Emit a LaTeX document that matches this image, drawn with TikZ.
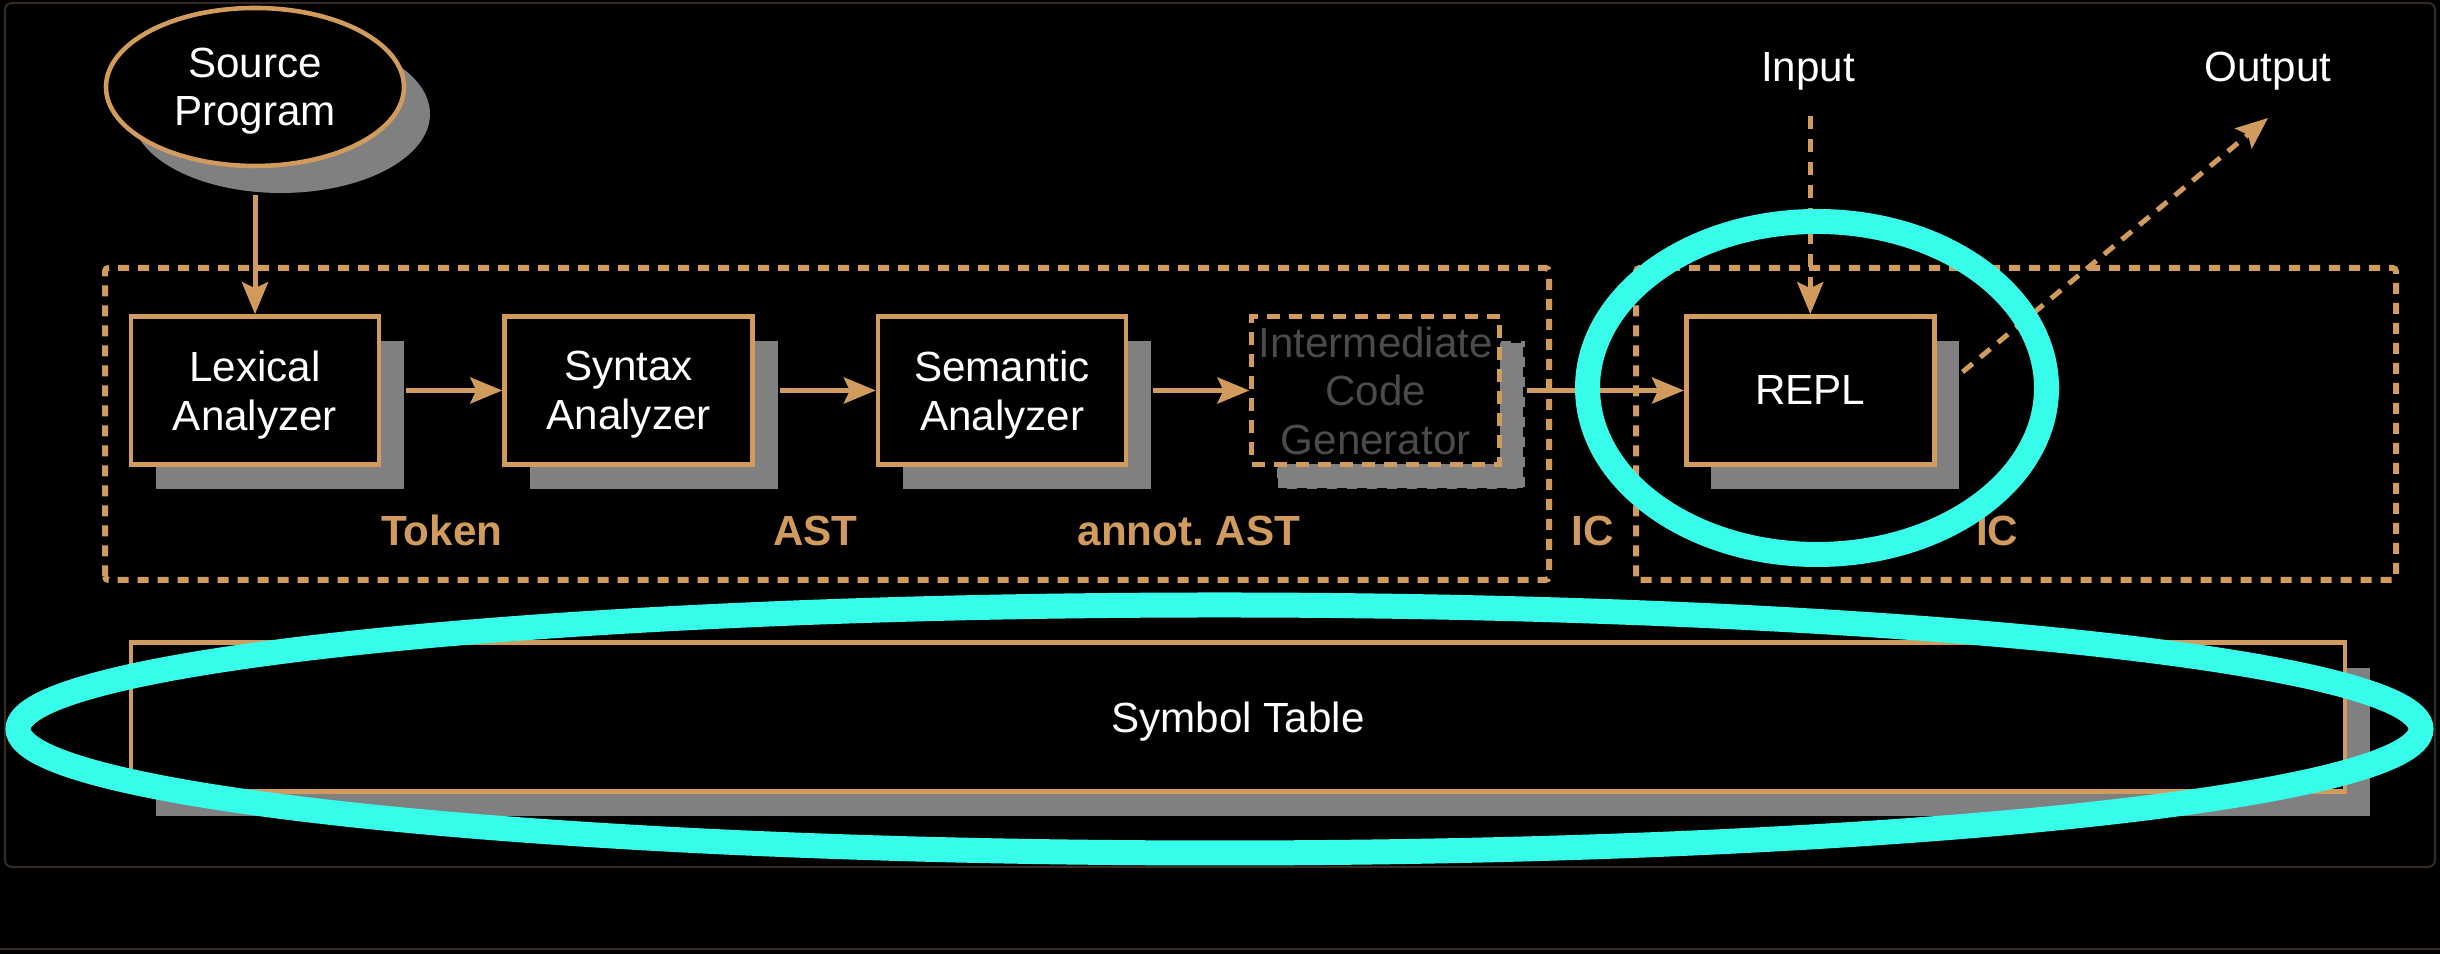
\documentclass[tikz,border=0pt]{standalone}
\usepackage{fontspec}
\setmainfont{Liberation Sans}
\usetikzlibrary{arrows.meta,calc,positioning,shadows,shapes.geometric}
\definecolor{EdgeClr}{rgb}{0.816,0.608,0.361}
\definecolor{ShadowClr}{rgb}{0.5,0.5,0.5}
\definecolor{RingClr}{rgb}{0.216,0.988,0.918}
\definecolor{FaintClr}{rgb}{0.29,0.29,0.31}
\definecolor{FrameClr}{rgb}{0.2,0.17,0.14}

\begin{document}
\begin{tikzpicture}[
  font=\fontsize{12}{13.8}\selectfont,
  stage/.style={draw=EdgeClr, line width=1.3pt, fill=black, text=white, align=center,
    inner sep=0pt, text depth=0pt, minimum width=2.48cm, minimum height=1.48cm,
    general shadow={fill=ShadowClr, shadow xshift=0.25cm, shadow yshift=-0.25cm}},
  faintstage/.style={draw=EdgeClr, line width=1.3pt, dash pattern=on 0.13cm off 0.09cm,
    fill=black, text=FaintClr, align=center,
    inner sep=0pt, text depth=0pt, minimum width=2.48cm, minimum height=1.48cm,
    general shadow={fill=ShadowClr, draw=black, line width=1pt, dash pattern=on 0.1cm off 0.1cm,
      shadow xshift=0.25cm, shadow yshift=-0.25cm}},
  source/.style={ellipse, draw=EdgeClr, line width=1.3pt, fill=black, text=white, align=center,
    inner sep=0pt, text depth=0pt, minimum width=2.98cm, minimum height=1.58cm,
    general shadow={fill=ShadowClr, shadow xshift=0.26cm, shadow yshift=-0.27cm}},
  symbox/.style={stage, minimum width=22.14cm, minimum height=1.485cm},
  zone/.style={draw=EdgeClr, line width=0.06cm, dash pattern=on 0.11cm off 0.09cm, rounded corners=1pt},
  flow/.style={draw=EdgeClr, line width=0.05cm, -{Stealth[length=0.32cm,width=0.26cm,inset=0.06cm]}},
  io/.style={flow, dash pattern=on 0.13cm off 0.1cm},
  tag/.style={text=EdgeClr, font=\fontsize{12}{13.8}\selectfont\bfseries, anchor=base},
  ring/.style={draw=RingClr, line width=0.25cm}
]
\useasboundingbox (0,0) rectangle (24.4,9.54);
\fill[black] (0,0) rectangle (24.4,9.54);
\draw[FrameClr, line width=0.6pt, rounded corners=2pt] (0.05,0.87) rectangle (24.35,9.51);
\draw[FrameClr, line width=0.6pt] (0,0.05) -- (24.4,0.05);

\draw[zone] (1.05,3.74) rectangle (15.49,6.86);
\draw[zone] (16.36,3.74) rectangle (23.96,6.86);

\node[source] (src) at (2.55,8.67) {Source\\Program};
\node[stage] (lex) at (2.55,5.635) {Lexical\\Analyzer};
\node[stage, right=1.21cm of lex] (syn) {Syntax\\Analyzer};
\node[stage, right=1.21cm of syn] (sem) {Semantic\\Analyzer};
\node[faintstage, right=1.21cm of sem] (icg) {Intermediate\\Code\\Generator};
\node[stage, right=1.82cm of icg] (repl) {REPL};
\node[symbox] (sym) at (12.38,2.37) {Symbol Table};

\node[text=white, anchor=base] (inp) at (18.08,8.72) {Input};
\node[text=white, anchor=base] (out) at (22.68,8.72) {Output};

\draw[flow, shorten <=0.27cm] (src) -- (lex);
\draw[flow, shorten <=0.25cm] (lex) -- (syn);
\draw[flow, shorten <=0.25cm] (syn) -- (sem);
\draw[flow, shorten <=0.25cm] (sem) -- (icg);
\draw[flow, shorten <=0.25cm] (icg) -- (repl);

\coordinate (inbeg) at ($(repl.north)+(0,1.98)$);
\draw[io] (inbeg) -- (repl);
\coordinate (outbeg) at ($(repl.east)+(0.26,0.185)$);
\coordinate (outend) at ($(out.base)+(0,-0.36)$);
\draw[io] (outbeg) -- (outend);

\node[tag] (tok) at ($(lex)!0.5!(syn)+(0,-1.555)$) {Token};
\node[tag] (ast) at ($(syn)!0.5!(sem)+(0,-1.555)$) {AST};
\node[tag] (aast) at ($(sem)!0.5!(icg)+(0,-1.555)$) {annot.\ AST};
\node[tag] (icl) at ($(icg)!0.5!(repl)+(0,-1.555)$) {IC};
\node[tag] (icr) at ($(repl)+(1.87,-1.555)$) {IC};

\draw[ring] (18.17,5.66) ellipse [x radius=2.295cm, y radius=1.665cm];
\draw[ring] (12.195,2.25) ellipse [x radius=12.015cm, y radius=1.24cm];

\end{tikzpicture}
\end{document}
